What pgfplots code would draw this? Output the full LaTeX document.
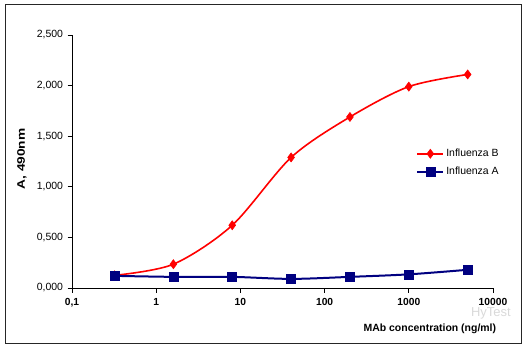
\documentclass[border=0pt]{standalone}
\usepackage{pgfplots}
\pgfplotsset{compat=1.18}
\usepackage{fontspec}
\setmainfont{Liberation Sans}
\definecolor{navyA}{RGB}{0,0,128}
\begin{document}
\begin{tikzpicture}[x=1bp,y=1bp]
\begin{axis}[
  scale only axis,
  width=421bp, height=253bp,
  xmode=log,
  xmin=0.1, xmax=10000,
  ymin=0, ymax=2.5,
  axis lines*=left,
  axis line style={line width=0.9bp, black},
  clip=false,
  xtick={0.1,1,10,100,1000,10000},
  xticklabels={{0,1},1,10,100,1000,10000},
  xminorticks=false,
  ytick={0,0.5,1,1.5,2,2.5},
  yticklabel style={/pgf/number format/fixed, /pgf/number format/fixed zerofill, /pgf/number format/precision=3, /pgf/number format/use comma, /pgf/number format/1000 sep={}, xshift=-1bp},
  /pgf/number format/assume math mode=true,
  tick style={black, line width=0.8bp},
  tick align=outside,
  major tick length=4.5bp,
  ticklabel style={font=\fontsize{10.5}{12}\selectfont},
  xticklabel style={font=\fontsize{10.3}{12}\selectfont\bfseries, yshift=-2bp},
  legend style={draw=none, fill=none, at={(rel axis cs:0.815,0.565)}, anchor=north west, font=\fontsize{10.5}{12}\selectfont, row sep=5bp, inner xsep=1bp},
  legend cell align=left,
  legend image code/.code={\draw[#1] (0bp,0bp) -- (26bp,0bp); \draw[#1, only marks] plot coordinates {(13bp,0bp)};},
]
\path (rel axis cs:-0.171,-0.2372) rectangle (rel axis cs:1.0831,1.1383);
\draw[line width=1bp, black!85] (rel axis cs:-0.159,-0.2174) rectangle (rel axis cs:1.0665,1.1186);
\addplot[red, line width=1.6bp, smooth, tension=0.5, mark=diamond*, mark size=4.5bp, mark options={fill=red, draw=red, line width=0.6bp}]
  coordinates {(0.32,0.125) (1.6,0.235) (8,0.62) (40,1.29) (200,1.69) (1000,1.99) (5000,2.11)};
\addlegendentry{Influenza B}
\addplot[navyA, line width=2bp, smooth, tension=0.5, mark=square*, mark size=4.5bp, mark options={fill=navyA, draw=navyA, line width=0.5bp}]
  coordinates {(0.32,0.12) (1.6,0.11) (8,0.11) (40,0.09) (200,0.11) (1000,0.135) (5000,0.18)};
\addlegendentry{Influenza A}
\node[rotate=90, xscale=1.25, font=\fontsize{11}{12}\selectfont\bfseries, anchor=center] at (rel axis cs:-0.119,0.51) {A, 490nm};
\node[text=black!15, font=\fontsize{13}{14}\selectfont, anchor=center] at (rel axis cs:0.995,-0.100) {HyTest};
\node[font=\fontsize{10.5}{12}\selectfont\bfseries, anchor=center] at (rel axis cs:0.85,-0.160) {MAb concentration (ng/ml)};
\end{axis}
\end{tikzpicture}
\end{document}
